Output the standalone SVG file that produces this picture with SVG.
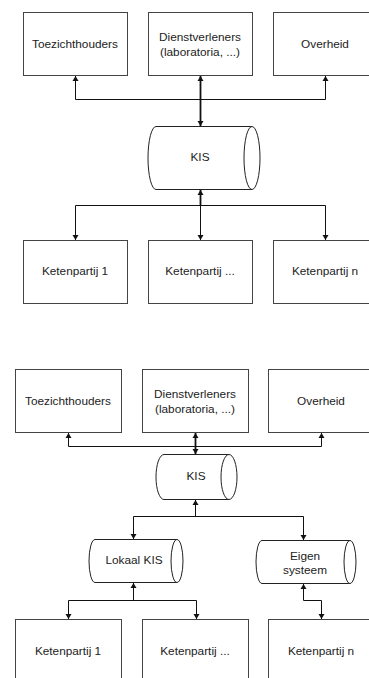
<svg xmlns="http://www.w3.org/2000/svg" width="369" height="678" viewBox="0 0 369 678">
  <style>
    .box { fill: #fff; stroke: #444; stroke-width: 1; }
    .cyl { fill: #fff; stroke: #222; stroke-width: 1; }
    .lbl { font-family: "Liberation Sans", Arial, sans-serif; font-size: 11.8px; fill: #222; text-anchor: middle; dominant-baseline: central; }
    .wire { fill: none; stroke: #111; stroke-width: 1; }
    .trunk { fill: none; stroke: #111; stroke-width: 1.8; }
  </style>
  <defs>
    <marker id="arrow" markerUnits="userSpaceOnUse" markerWidth="8" markerHeight="8" refX="6" refY="4" orient="auto-start-reverse">
      <path d="M1,1 L6,4 L1,7 Z" fill="#111"/>
    </marker>
  </defs>

  <rect width="369" height="678" fill="#fff"/>

  <!-- ===== Upper scheme: one central KIS ===== -->
  <g id="top-toezichthouders">
    <rect class="box" x="23.5" y="12.5" width="104" height="63"/>
    <text class="lbl" x="75" y="44">Toezichthouders</text>
  </g>
  <g id="top-dienstverleners">
    <rect class="box" x="148.5" y="12.5" width="104" height="63"/>
    <text class="lbl" x="200" y="37">Dienstverleners</text>
    <text class="lbl" x="200" y="52">(laboratoria, ...)</text>
  </g>
  <g id="top-overheid">
    <rect class="box" x="273.5" y="12.5" width="104" height="63"/>
    <text class="lbl" x="325" y="44">Overheid</text>
  </g>

  <g id="top-kis">
    <path class="cyl" d="M156,126.5 L252,126.5 A8,31.5 0 0 1 252,189.5 L156,189.5 A8,31.5 0 0 1 156,126.5 Z"/>
    <path class="cyl" d="M252,126.5 A8,31.5 0 0 0 252,189.5"/>
    <text class="lbl" x="200" y="157">KIS</text>
  </g>

  <g id="top-keten-1">
    <rect class="box" x="23.5" y="240.5" width="104" height="63"/>
    <text class="lbl" x="75" y="271">Ketenpartij 1</text>
  </g>
  <g id="top-keten-mid">
    <rect class="box" x="148.5" y="240.5" width="104" height="63"/>
    <text class="lbl" x="200" y="271">Ketenpartij ...</text>
  </g>
  <g id="top-keten-n">
    <rect class="box" x="273.5" y="240.5" width="104" height="63"/>
    <text class="lbl" x="325" y="271">Ketenpartij n</text>
  </g>

  <!-- ===== Lower scheme: central KIS with local systems ===== -->
  <g id="bot-toezichthouders">
    <rect class="box" x="15.5" y="369.5" width="106" height="63"/>
    <text class="lbl" x="68" y="401">Toezichthouders</text>
  </g>
  <g id="bot-dienstverleners">
    <rect class="box" x="142.5" y="369.5" width="106" height="63"/>
    <text class="lbl" x="195" y="394">Dienstverleners</text>
    <text class="lbl" x="195" y="409">(laboratoria, ...)</text>
  </g>
  <g id="bot-overheid">
    <rect class="box" x="268.5" y="369.5" width="106" height="63"/>
    <text class="lbl" x="321" y="401">Overheid</text>
  </g>

  <g id="bot-kis">
    <path class="cyl" d="M164,454.5 L229,454.5 A8,22.5 0 0 1 229,499.5 L164,499.5 A8,22.5 0 0 1 164,454.5 Z"/>
    <path class="cyl" d="M229,454.5 A8,22.5 0 0 0 229,499.5"/>
    <text class="lbl" x="196" y="476">KIS</text>
  </g>

  <g id="lokaal-kis">
    <path class="cyl" d="M95,539.5 L177,539.5 A6,21.5 0 0 1 177,582.5 L95,582.5 A6,21.5 0 0 1 95,539.5 Z"/>
    <path class="cyl" d="M177,539.5 A6,21.5 0 0 0 177,582.5"/>
    <text class="lbl" x="134" y="560">Lokaal KIS</text>
  </g>
  <g id="eigen-systeem">
    <path class="cyl" d="M262,540.5 L350,540.5 A6,21.5 0 0 1 350,583.5 L262,583.5 A6,21.5 0 0 1 262,540.5 Z"/>
    <path class="cyl" d="M350,540.5 A6,21.5 0 0 0 350,583.5"/>
    <text class="lbl" x="305" y="556">Eigen</text>
    <text class="lbl" x="305" y="570">systeem</text>
  </g>

  <g id="bot-keten-1">
    <rect class="box" x="15.5" y="619.5" width="106" height="63"/>
    <text class="lbl" x="68" y="651">Ketenpartij 1</text>
  </g>
  <g id="bot-keten-mid">
    <rect class="box" x="142.5" y="619.5" width="106" height="63"/>
    <text class="lbl" x="195" y="651">Ketenpartij ...</text>
  </g>
  <g id="bot-keten-n">
    <rect class="box" x="268.5" y="619.5" width="106" height="63"/>
    <text class="lbl" x="321" y="651">Ketenpartij n</text>
  </g>

  <g id="connectors">
    <!-- upper scheme: KIS up to the three authorities -->
    <path class="wire" d="M75.5,99.5 L325.5,99.5"/>
    <path class="wire" d="M75.5,99.5 L75.5,76" marker-end="url(#arrow)"/>
    <path class="wire" d="M325.5,99.5 L325.5,76" marker-end="url(#arrow)"/>
    <path class="trunk" d="M200.5,76 L200.5,126" marker-start="url(#arrow)" marker-end="url(#arrow)"/>
    <!-- upper scheme: KIS down to the chain partners -->
    <path class="wire" d="M75.5,205.5 L325.5,205.5"/>
    <path class="wire" d="M75.5,205.5 L75.5,240" marker-end="url(#arrow)"/>
    <path class="wire" d="M325.5,205.5 L325.5,240" marker-end="url(#arrow)"/>
    <path class="trunk" d="M200.5,190 L200.5,205.5" marker-start="url(#arrow)"/>
    <path class="wire" d="M200.5,205.5 L200.5,240" marker-end="url(#arrow)"/>

    <!-- lower scheme: KIS up to the three authorities -->
    <path class="wire" d="M68.5,446.5 L321.5,446.5"/>
    <path class="wire" d="M68.5,446.5 L68.5,433" marker-end="url(#arrow)"/>
    <path class="wire" d="M321.5,446.5 L321.5,433" marker-end="url(#arrow)"/>
    <path class="trunk" d="M195.5,433 L195.5,454" marker-start="url(#arrow)" marker-end="url(#arrow)"/>
    <!-- lower scheme: KIS down to the local systems -->
    <path class="wire" d="M133.5,516.5 L303.5,516.5"/>
    <path class="wire" d="M195.5,516.5 L195.5,500" marker-end="url(#arrow)"/>
    <path class="wire" d="M133.5,516.5 L133.5,539" marker-end="url(#arrow)"/>
    <path class="wire" d="M303.5,516.5 L303.5,540" marker-end="url(#arrow)"/>
    <!-- lower scheme: Lokaal KIS to its chain partners -->
    <path class="wire" d="M68.5,600.5 L196.5,600.5"/>
    <path class="wire" d="M133.5,600.5 L133.5,583" marker-end="url(#arrow)"/>
    <path class="wire" d="M68.5,600.5 L68.5,619" marker-end="url(#arrow)"/>
    <path class="wire" d="M196.5,600.5 L196.5,619" marker-end="url(#arrow)"/>
    <!-- lower scheme: Eigen systeem to chain partner n -->
    <path class="wire" d="M303.5,584 L303.5,600.5 L321.5,600.5 L321.5,619" marker-start="url(#arrow)" marker-end="url(#arrow)"/>
  </g>
</svg>
